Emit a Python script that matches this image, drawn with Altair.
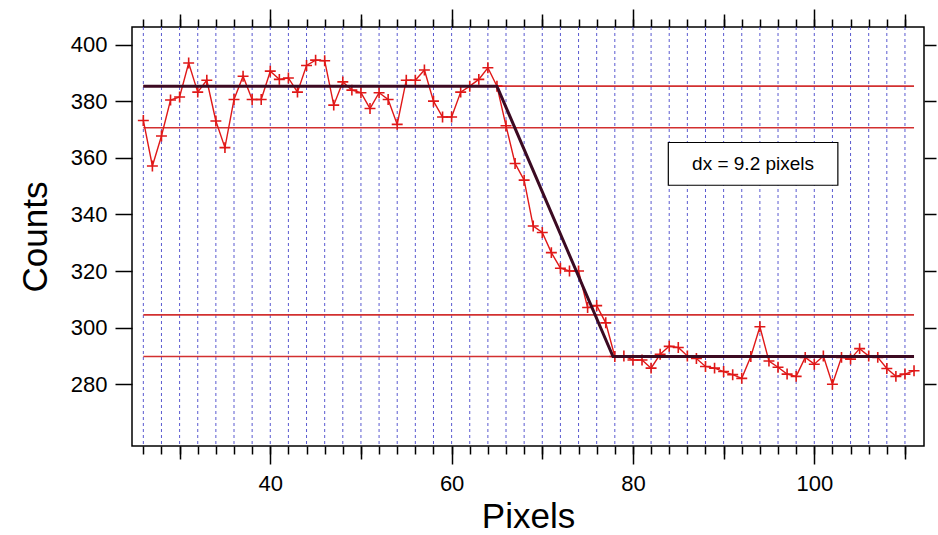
import altair as alt
import pandas as pd

# ---- data ----
pix = list(range(26, 112))
counts = [373.2, 357.1, 367.7, 380.4, 381.5, 393.5, 383.2, 387.4, 373.0, 363.6,
          380.6, 388.8, 380.6, 380.6, 390.6, 387.7, 388.2, 383.2, 392.6, 394.5,
          394.3, 378.6, 386.8, 383.9, 383.0, 377.4, 383.0, 380.6, 371.8, 387.4,
          387.4, 391.0, 380.0, 374.4, 374.4, 383.2, 385.3, 387.7, 391.8, 385.3,
          371.3, 358.0, 352.1, 335.9, 333.6, 326.5, 321.0, 320.0, 320.0, 307.1,
          307.8, 301.7, 289.8, 290.0, 288.6, 288.6, 285.7, 290.6, 293.4, 293.0,
          290.0, 289.1, 286.3, 285.7, 284.5, 283.4, 282.1, 289.8, 300.3, 288.2,
          286.0, 283.6, 282.8, 289.5, 287.1, 290.0, 280.0, 289.5, 288.9, 292.6,
          290.0, 289.5, 285.6, 282.8, 283.6, 284.8]

fit_x = [26, 65.0, 77.8, 111]
fit_y = [385.3, 385.3, 289.8, 289.8]

levels = [385.3, 370.6, 304.5, 289.8]
level_start = 26
level_end = 111

grid_x = list(range(26, 111, 2))

x_major = [40, 60, 80, 100]
x_mid = [30, 50, 70, 90, 110]
x_minor = list(range(26, 111, 2))
y_ticks = [280, 300, 320, 340, 360, 380, 400]

note_text = "dx = 9.2 pixels"
note_box = {"x": 83.9, "x2": 102.6, "y": 350.3, "y2": 365.4}

x_domain = [24.75, 112.1]
y_domain = [258.2, 406.2]

# ---- tables ----
df = pd.DataFrame({"x": pix, "y": counts})
fit_df = pd.DataFrame({"x": fit_x, "y": fit_y})
lev_df = pd.DataFrame({"y": levels, "x": [level_start] * len(levels), "x2": [level_end] * len(levels)})
grid_df = pd.DataFrame({"x": grid_x})
box_df = pd.DataFrame([note_box])
txt_df = pd.DataFrame({"x": [(note_box["x"] + note_box["x2"]) / 2],
                       "y": [(note_box["y"] + note_box["y2"]) / 2], "t": [note_text]})

FONT = "Liberation Sans"
xs = alt.Scale(domain=x_domain, nice=False, zero=False)
ys = alt.Scale(domain=y_domain, nice=False, zero=False)

RED = "#e01818"
DARK = "#3c0a22"

grid = alt.Chart(grid_df).mark_rule(color="#5a5ad0", strokeWidth=1, strokeDash=[3, 3]).encode(
    x=alt.X("x:Q", scale=xs, axis=None))

lev = alt.Chart(lev_df).mark_rule(color="#d23030", strokeWidth=1.6).encode(
    x=alt.X("x:Q", scale=xs, axis=None), x2="x2:Q",
    y=alt.Y("y:Q", scale=ys, axis=None))

line = alt.Chart(df).mark_line(color=RED, strokeWidth=1.4).encode(
    x=alt.X("x:Q", scale=xs, axis=None), y=alt.Y("y:Q", scale=ys, axis=None))

pts = alt.Chart(df).mark_point(
    shape="M -1 0 L 1 0 M 0 -1 L 0 1", size=120, filled=False, color=RED,
    strokeWidth=1.6, opacity=1).encode(
    x=alt.X("x:Q", scale=xs, axis=None), y=alt.Y("y:Q", scale=ys, axis=None))

fit = alt.Chart(fit_df).mark_line(color=DARK, strokeWidth=3).encode(
    x=alt.X("x:Q", scale=xs, axis=None), y=alt.Y("y:Q", scale=ys, axis=None))

box = alt.Chart(box_df).mark_rect(fill="white", stroke="black", strokeWidth=1.2).encode(
    x=alt.X("x:Q", scale=xs, axis=None), x2="x2:Q",
    y=alt.Y("y:Q", scale=ys, axis=None), y2="y2:Q")

txt = alt.Chart(txt_df).mark_text(font=FONT, fontSize=19, color="black").encode(
    x=alt.X("x:Q", scale=xs, axis=None), y=alt.Y("y:Q", scale=ys, axis=None), text="t:N")


def xaxis_layer(values, size, orient, labels=False, title=None):
    ax = dict(values=values, tickSize=size, orient=orient, labels=labels, domain=False,
              grid=False, tickColor="black", tickWidth=1.5)
    if labels:
        ax.update(labelFont=FONT, labelFontSize=22, labelColor="black", labelPadding=9)
    if title:
        ax.update(title=title, titleFont=FONT, titleFontSize=35, titleFontWeight="normal",
                  titleColor="black", titlePadding=5)
    else:
        ax.update(title="")
    return alt.Chart(df).mark_point(opacity=0).encode(
        x=alt.X("x:Q", scale=xs, axis=alt.Axis(**ax)),
        y=alt.Y("y:Q", scale=ys, axis=None))


def yaxis_layer(orient, labels=False, title=None, size=17):
    ax = dict(values=y_ticks, tickSize=size, orient=orient, labels=labels, domain=False,
              grid=False, tickColor="black", tickWidth=1.5)
    if labels:
        ax.update(labelFont=FONT, labelFontSize=22, labelColor="black", labelPadding=8)
    if title:
        ax.update(title=title, titleFont=FONT, titleFontSize=35, titleFontWeight="normal",
                  titleColor="black", titlePadding=17)
    else:
        ax.update(title="")
    return alt.Chart(df).mark_point(opacity=0).encode(
        x=alt.X("x:Q", scale=xs, axis=None),
        y=alt.Y("y:Q", scale=ys, axis=alt.Axis(**ax)))


axes = [
    xaxis_layer(x_major, 18, "bottom", labels=True, title="Pixels"),
    xaxis_layer(x_mid, 13, "bottom"),
    xaxis_layer(x_minor, 8, "bottom"),
    xaxis_layer(x_major, 18, "top"),
    xaxis_layer(x_mid, 13, "top"),
    xaxis_layer(x_minor, 8, "top"),
    yaxis_layer("left", labels=True, title="Counts"),
    yaxis_layer("right", size=12),
]

chart = alt.layer(grid, lev, line, pts, fit, box, txt, *axes).resolve_axis(
    x="independent", y="independent"
).properties(
    width=792, height=419,
    padding={"left": 132, "top": 27, "right": 14, "bottom": 89},
    autosize=alt.AutoSizeParams(type="none"),
    background="white",
).configure_view(stroke="black", strokeWidth=1.5)

chart.save("out.html", embed_options={"renderer": "svg", "actions": False})
